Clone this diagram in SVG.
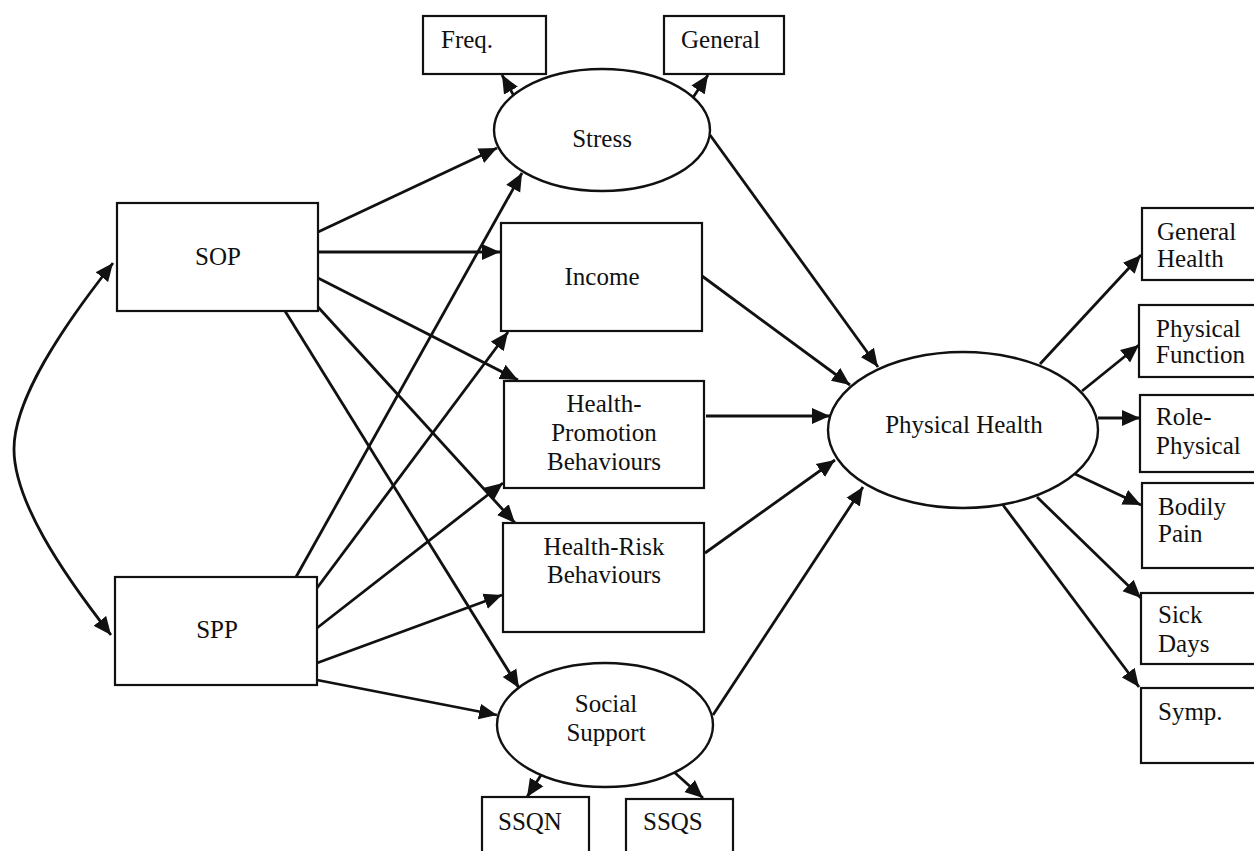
<svg xmlns="http://www.w3.org/2000/svg" width="1254" height="851" viewBox="0 0 1254 851">
<defs>
<marker id="ah" markerUnits="userSpaceOnUse" markerWidth="19" markerHeight="17" refX="18" refY="8" orient="auto-start-reverse" viewBox="0 0 19 16">
<path d="M0,0 L18,8 L0,16 z" fill="#111"/>
</marker>
<style>
.box{fill:#fff;stroke:#111;stroke-width:2.2}
.ell{fill:#fff;stroke:#111;stroke-width:2.4}
.t{font-family:"Liberation Serif","Times New Roman",serif;font-size:25px;fill:#111}
.c{text-anchor:middle}
.con line,.con path{stroke:#111;stroke-width:2.8;fill:none;marker-end:url(#ah)}
</style>
</defs>
<rect width="1254" height="851" fill="#fff"/>
<g class="con" id="connectors">
<line x1="318" y1="232" x2="497" y2="148"/>
<line x1="318" y1="252" x2="500" y2="252"/>
<line x1="318" y1="278" x2="518" y2="380"/>
<line x1="318" y1="307" x2="515" y2="523"/>
<line x1="285" y1="311" x2="519" y2="688"/>
<line x1="296" y1="577" x2="522" y2="173"/>
<line x1="317" y1="588" x2="508" y2="332"/>
<line x1="317" y1="628" x2="503" y2="483"/>
<line x1="317" y1="663" x2="502" y2="595"/>
<line x1="317" y1="680" x2="497" y2="715"/>
<line x1="514" y1="96" x2="502" y2="75"/>
<line x1="692" y1="99" x2="708" y2="75"/>
<line x1="710" y1="135" x2="878" y2="367"/>
<line x1="702" y1="276" x2="850" y2="385"/>
<line x1="706" y1="416" x2="830" y2="416"/>
<line x1="705" y1="553" x2="835" y2="460"/>
<line x1="713" y1="715" x2="863" y2="487"/>
<line x1="543" y1="772" x2="527" y2="797"/>
<line x1="674" y1="772" x2="703" y2="798"/>
<line x1="1040" y1="364" x2="1141" y2="255"/>
<line x1="1082" y1="391" x2="1139" y2="345"/>
<line x1="1098" y1="418" x2="1140" y2="418"/>
<line x1="1075" y1="474" x2="1141" y2="505"/>
<line x1="1037" y1="497" x2="1141" y2="598"/>
<line x1="1003" y1="505" x2="1139" y2="687"/>
<path d="M113,263 C60,330 14,400 14,449 C14,500 60,570 111,635" style="marker-start:url(#ah)"/>
</g>
<g id="SOP"><rect class="box" x="117" y="203" width="201" height="108"/><text class="t c" x="218" y="265">SOP</text></g>
<g id="SPP"><rect class="box" x="115" y="577" width="202" height="108"/><text class="t c" x="217" y="638">SPP</text></g>
<g id="Stress"><ellipse class="ell" cx="602" cy="130" rx="108" ry="61"/><text class="t c" x="602" y="147">Stress</text></g>
<g id="Freq"><rect class="box" x="423" y="16" width="123" height="58"/><text class="t" x="441" y="48">Freq.</text></g>
<g id="GeneralStress"><rect class="box" x="664" y="16" width="120" height="58"/><text class="t" x="681" y="48">General</text></g>
<g id="Income"><rect class="box" x="501" y="223" width="201" height="108"/><text class="t c" x="602" y="285">Income</text></g>
<g id="HPB"><rect class="box" x="504" y="381" width="200" height="107"/><text class="t c" x="604" y="412">Health-</text><text class="t c" x="604" y="441">Promotion</text><text class="t c" x="604" y="470">Behaviours</text></g>
<g id="HRB"><rect class="box" x="503" y="523" width="201" height="109"/><text class="t c" x="604" y="555">Health-Risk</text><text class="t c" x="604" y="583">Behaviours</text></g>
<g id="SocialSupport"><ellipse class="ell" cx="605" cy="725" rx="108" ry="62"/><text class="t c" x="606" y="712">Social</text><text class="t c" x="606" y="741">Support</text></g>
<g id="SSQN"><rect class="box" x="482" y="797" width="107" height="70"/><text class="t" x="498" y="830">SSQN</text></g>
<g id="SSQS"><rect class="box" x="626" y="799" width="107" height="70"/><text class="t" x="643" y="830">SSQS</text></g>
<g id="PhysicalHealth"><ellipse class="ell" cx="963" cy="430" rx="135" ry="78"/><text class="t c" x="964" y="433">Physical Health</text></g>
<g id="GeneralHealth"><rect class="box" x="1142" y="208" width="130" height="72"/><text class="t" x="1157" y="240">General</text><text class="t" x="1157" y="267">Health</text></g>
<g id="PhysicalFunction"><rect class="box" x="1139" y="305" width="130" height="72"/><text class="t" x="1156" y="337">Physical</text><text class="t" x="1156" y="363">Function</text></g>
<g id="RolePhysical"><rect class="box" x="1140" y="395" width="130" height="77"/><text class="t" x="1156" y="425">Role-</text><text class="t" x="1156" y="454">Physical</text></g>
<g id="BodilyPain"><rect class="box" x="1142" y="483" width="130" height="85"/><text class="t" x="1158" y="515">Bodily</text><text class="t" x="1158" y="542">Pain</text></g>
<g id="SickDays"><rect class="box" x="1141" y="593" width="130" height="71"/><text class="t" x="1158" y="623">Sick</text><text class="t" x="1158" y="652">Days</text></g>
<g id="Symp"><rect class="box" x="1141" y="688" width="130" height="75"/><text class="t" x="1158" y="720">Symp.</text></g>
</svg>
